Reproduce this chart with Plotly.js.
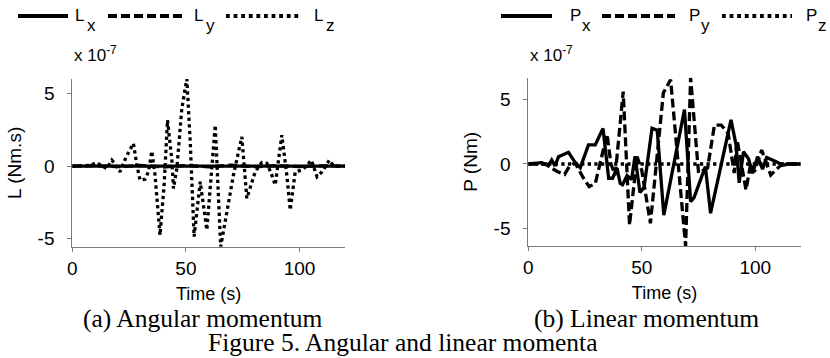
<!DOCTYPE html>
<html>
<head>
<meta charset="utf-8">
<script src="https://cdn.plot.ly/plotly-3.0.1.min.js"></script>
<style>
  html, body { margin: 0; padding: 0; background: #fff; }
  #fig { width: 830px; height: 358px; }
</style>
</head>
<body>
<div id="fig"></div>
<script>
// ---- Angular momentum components (units of 1e-7 Nm.s), time in s ----
const tLx = [0, 20, 40, 60, 80, 100, 120];
const Lx  = [0, 0, 0, 0, 0, 0, 0];

const tLy = [0, 10, 20, 30, 40, 50, 60, 70, 80, 90, 100, 110, 120];
const Ly  = [0, 0.03, -0.04, 0.05, -0.06, 0.04, -0.05, 0.06, -0.04, 0.03, -0.03, 0.02, 0];

const tLz = [0, 5, 8, 10.7, 13, 15.2, 17.4, 19, 21, 23.7, 26.9, 28.4, 29.8, 32, 33.5, 35, 36.4,
             38.6, 40.4, 41.9, 43.8, 44.5, 46, 48.2, 50.4, 51.9, 53.6, 56.3, 59.2, 62.9, 65.3,
             70.9, 74.6, 76.8, 80.5, 83.4, 85.6, 87.8, 89.3, 92.2, 94.4, 95.9, 98.1, 101, 103,
             105.2, 107.7, 109.9, 113.1, 115, 120];
const Lz  = [0, 0, 0.05, 0.25, 0, -0.16, 0.41, 0.1, -0.39, 0.64, 1.56, 0.07, -0.96, -0.9, -0.39, 1.03, -0.62,
             -4.75, -1.3, 3.17, 0.41, -1.54, -0.16, 3.97, 6.0, 1.67, -4.86, -1.08, -4.4, 2.82, -5.55,
             -0.62, 2.02, -2.22, -0.39, 0.25, 0.2, -0.62, -1.3, 2.13, -0.62, -3.03, -0.39, -0.28, 0,
             0.41, -0.73, -0.39, 0.41, 0, 0];

// ---- Linear momentum components (units of 1e-7 Nm), time in s ----
const tPx = [0, 4, 6, 8.8, 10.3, 11.8, 13.3, 17.7, 20.6, 22.9, 26.5, 29.5, 32.9, 35.4, 37.1, 39.1,
             40.5, 41.5, 43.5, 45.5, 47, 49.2, 51, 54.5, 56.8, 59.7, 68.8, 71.5, 73, 78, 80.3,
             89.3, 91.5, 92.9, 94.8, 97, 98.8, 101, 103.2, 105, 109, 112, 115, 120];
const Px  = [0, 0.05, 0.1, -0.15, 0.3, -0.15, 0.56, 0.9, 0.13, -0.28, 1.47, 1.47, 2.75, -1.1, -1.1, -0.33,
             -1.5, -1.6, -0.9, -1.2, 0.6, -2.2, -1.8, 2.75, 2.6, -3.95, 4.2, -2.9, -2.6, -0.2, -3.8,
             3.4, 1.5, -1.45, 0.95, 0.4, -0.72, 0.56, -0.4, 0.5, 0.2, -0.1, 0, 0];

const tPy = [0, 8, 10, 13, 16, 18, 20.6, 24, 26.8, 29.5, 34.7, 36.4, 38.3, 41.8, 44.6, 47.9, 50,
             53.8, 59.5, 62.7, 69.3, 71.5, 75, 79, 82, 85, 88, 90.7, 92, 95.9, 98, 99.6, 102.8,
             106.8, 110, 112, 120];
const Py  = [0, 0, -0.3, -0.6, -0.8, -0.2, 0.1, -1.0, -1.75, -1.5, 2.3, 0, -0.85, 5.58, -4.72, 0.57, -0.5,
             -4.58, 5.5, 6.5, -6.33, 6.66, -0.7, -0.3, 3.0, 3.0, 2.4, -0.7, 1.85, -2.0, 0.05, -0.6, 1.08,
             -0.85, -0.3, 0, 0];

const tPz = [0, 20, 40, 60, 80, 100, 120];
const Pz  = [0, 0, 0, 0, 0, 0, 0];

// Axis extents (tight to the data) and tick positions / labels
const timeRange = [0, 120];
const LRange = [-5.55, 6.0];
const PRange = [-6.33, 6.66];
const timeTicks = [0, 50, 100];
const timeLabels = ['0', '50', '100'];
const valueTicks = [-5, 0, 5];
const valueLabels = ['-5', '0', '5'];

// Legend labels: [main letter, subscript]
const leftLegend  = [["L", "x"], ["L", "y"], ["L", "z"]];
const rightLegend = [["P", "x"], ["P", "y"], ["P", "z"]];

const W = 830, H = 358;
const px = v => v / W;
const py = v => 1 - v / H;

const INK = '#000';
const AXIS = '#7a7a7a';
const SANS = 'Arial, Liberation Sans, sans-serif';
const SERIF = 'Times New Roman, Liberation Serif, serif';
const DASH = '9px,4px';

function line(x, y, dash, xa, ya, name) {
  return { x, y, xaxis: xa, yaxis: ya, name, type: 'scatter', mode: 'lines',
           line: { color: INK, width: 3.3, dash }, hoverinfo: 'skip' };
}

const traces = [
  line(tLx, Lx, 'solid', 'x', 'y', 'Lx'),
  line(tLy, Ly, DASH, 'x', 'y', 'Ly'),
  line(tLz, Lz, 'dot', 'x', 'y', 'Lz'),
  line(tPz, Pz, 'dot', 'x2', 'y2', 'Pz'),
  line(tPy, Py, DASH, 'x2', 'y2', 'Py'),
  line(tPx, Px, 'solid', 'x2', 'y2', 'Px')
];

function xAxis(domain, anchor) {
  return {
    domain, anchor, range: timeRange, tickmode: 'array', tickvals: timeTicks, ticktext: timeLabels,
    showline: true, linecolor: AXIS, linewidth: 1, mirror: false,
    ticks: 'outside', ticklen: 4, tickcolor: AXIS, tickwidth: 1,
    showgrid: false, zeroline: false, fixedrange: true,
    tickfont: { family: SANS, size: 19, color: INK },
    title: { text: 'Time (s)', font: { family: SANS, size: 18, color: INK }, standoff: 9 }
  };
}
function yAxis(domain, anchor, range, title) {
  return {
    domain, anchor, range, tickmode: 'array', tickvals: valueTicks, ticktext: valueLabels,
    showline: true, linecolor: AXIS, linewidth: 1, mirror: false,
    ticks: 'outside', ticklen: 4, tickcolor: AXIS, tickwidth: 1,
    showgrid: false, zeroline: false, fixedrange: true,
    ticklabelstandoff: 9,
    tickfont: { family: SANS, size: 19, color: INK },
    title: { text: title, font: { family: SANS, size: 19, color: INK }, standoff: 10 }
  };
}

// Legend rows above each panel: sample stroke + label with lowered subscript
const legendShapes = [];
const legendNotes = [];
function legendRow(items, strokes, labelX) {
  const styles = ['solid', DASH, 'dot'];
  items.forEach((it, i) => {
    legendShapes.push({ type: 'line', xref: 'paper', yref: 'paper',
      x0: px(strokes[i][0]), x1: px(strokes[i][1]), y0: py(16), y1: py(16),
      line: { color: INK, width: 3.8, dash: styles[i] } });
    legendNotes.push({ xref: 'paper', yref: 'paper', x: px(labelX[i]), y: py(16),
      xanchor: 'left', yanchor: 'middle', showarrow: false, text: it[0],
      font: { family: SANS, size: 17, color: INK } });
    legendNotes.push({ xref: 'paper', yref: 'paper', x: px(labelX[i] + 12), y: py(26),
      xanchor: 'left', yanchor: 'middle', showarrow: false, text: it[1],
      font: { family: SANS, size: 17, color: INK } });
  });
}
legendRow(leftLegend, [[18, 68], [108, 182], [226, 302]], [73, 192, 312]);
legendRow(rightLegend, [[501, 552], [602, 675], [722, 792]], [568, 687, 804]);

const annotations = legendNotes.concat([
  { xref: 'paper', yref: 'paper', x: px(72), y: py(67), xanchor: 'left', yanchor: 'bottom',
    showarrow: false, text: 'x 10<sup>-7</sup>', font: { family: SANS, size: 17, color: INK } },
  { xref: 'paper', yref: 'paper', x: px(528), y: py(67), xanchor: 'left', yanchor: 'bottom',
    showarrow: false, text: 'x 10<sup>-7</sup>', font: { family: SANS, size: 17, color: INK } },
  { xref: 'paper', yref: 'paper', x: px(203), y: py(318), xanchor: 'center', yanchor: 'middle',
    showarrow: false, text: '(a) Angular momentum', font: { family: SERIF, size: 25.5, color: INK } },
  { xref: 'paper', yref: 'paper', x: px(646), y: py(318), xanchor: 'center', yanchor: 'middle',
    showarrow: false, text: '(b) Linear momentum', font: { family: SERIF, size: 25.5, color: INK } },
  { xref: 'paper', yref: 'paper', x: px(403), y: py(342), xanchor: 'center', yanchor: 'middle',
    showarrow: false, text: 'Figure 5. Angular and linear momenta', font: { family: SERIF, size: 25.5, color: INK } }
]);

const layout = {
  width: W, height: H,
  margin: { l: 0, r: 0, t: 0, b: 0 },
  paper_bgcolor: '#fff', plot_bgcolor: '#fff',
  showlegend: false,
  xaxis:  xAxis([px(72.3), px(345)], 'y'),
  yaxis:  yAxis([py(246.7), py(79)], 'x', LRange, 'L (Nm.s)'),
  xaxis2: xAxis([px(528.3), px(800.7)], 'y2'),
  yaxis2: yAxis([py(246), py(77.7)], 'x2', PRange, 'P (Nm)'),
  shapes: legendShapes,
  annotations
};

Plotly.newPlot('fig', traces, layout, { staticPlot: true, displayModeBar: false });
</script>
</body>
</html>
